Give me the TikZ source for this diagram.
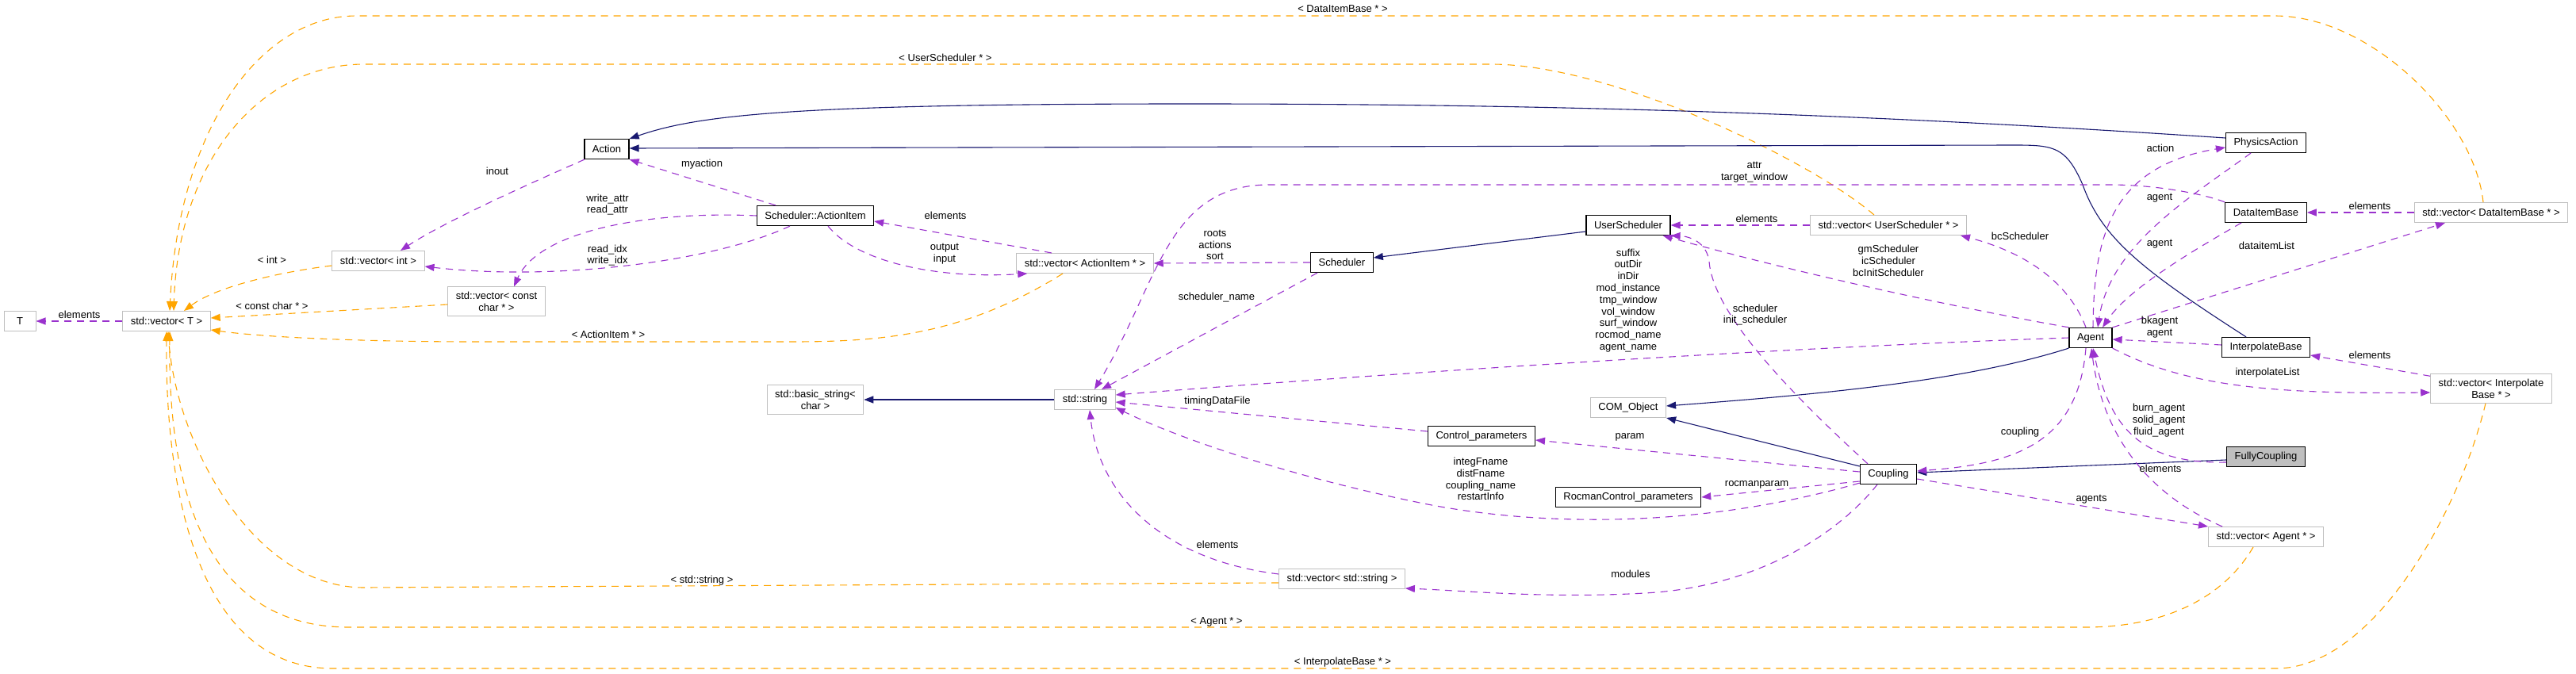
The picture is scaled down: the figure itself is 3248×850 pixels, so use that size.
\documentclass[tikz,border=0pt]{standalone}
\usepackage{fontspec}
\setmainfont{Liberation Sans}[Ligatures=NoCommon]
\usetikzlibrary{arrows.meta}

\definecolor{dxpurple}{HTML}{9A32CD}
\definecolor{dxorange}{HTML}{FFA500}
\definecolor{dxnavy}{HTML}{191970}
\definecolor{dxgray}{HTML}{BFBFBF}

\begin{document}
\begin{tikzpicture}[
  x=1pt, y=-1pt,
  font=\fontsize{13}{14.8}\selectfont,
  cls/.style={draw=black, line width=1.2pt, fill=white, minimum height=25pt, inner xsep=10pt, inner ysep=6pt, align=center},
  tcls/.style={cls, draw=dxgray, line width=1pt},
  lbl/.style={inner sep=0pt, align=center},
  tip/.style={-{Triangle[length=12pt,width=9pt]}},
  mem/.style={tip, draw=dxpurple, line width=1.1pt, dash pattern=on 9pt off 7pt},
  tmpl/.style={tip, draw=dxorange, line width=1.1pt, dash pattern=on 9pt off 7pt},
  inh/.style={tip, draw=dxnavy, line width=1.1pt}
]
\useasboundingbox (0,0) rectangle (3248,850);

% classes
\node[tcls, minimum width=40pt] (tT) at (25,405) {T};
\node[tcls] (vecT) at (210,405) {std::vector< T >};
\node[tcls] (vecInt) at (477,329) {std::vector< int >};
\node[tcls] (vecCChar) at (626,380) {std::vector< const\\char * >};
\node[cls] (action) at (765,188) {Action};
\node[cls] (actItem) at (1028,272) {Scheduler::ActionItem};
\node[tcls] (vecActItem) at (1368,332) {std::vector< ActionItem * >};
\node[tcls] (bstring) at (1028,504) {std::basic\_string<\\char >};
\node[tcls] (sstring) at (1368,504) {std::string};
\node[cls] (sched) at (1692,331) {Scheduler};
\node[cls] (usched) at (2053,284) {UserScheduler};
\node[tcls] (vecUsched) at (2381,284) {std::vector< UserScheduler * >};
\node[tcls] (comobj) at (2053,514) {COM\_Object};
\node[cls] (ctrlpar) at (1868,550) {Control\_parameters};
\node[cls] (rocpar) at (2053,627) {RocmanControl\_parameters};
\node[tcls] (vecStr) at (1692,730) {std::vector< std::string >};
\node[cls] (coupling) at (2381,598) {Coupling};
\node[cls] (physact) at (2857,180) {PhysicsAction};
\node[cls] (dataitem) at (2857,268) {DataItemBase};
\node[tcls] (vecData) at (3141,268) {std::vector< DataItemBase * >};
\node[cls] (agent) at (2636,426) {Agent};
\node[cls] (interp) at (2857,438) {InterpolateBase};
\node[tcls] (vecInterp) at (3141,490) {std::vector< Interpolate\\Base * >};
\node[cls, fill=dxgray] (fully) at (2857,576) {FullyCoupling};
\node[tcls] (vecAgent) at (2857,677) {std::vector< Agent * >};

% template instances
\draw[tmpl] ([yshift=-6pt]vecInt.west) .. controls (360,342) and (275,360) .. ([xshift=22pt]vecT.north) node[lbl] at (343,328) {< int >};
\draw[tmpl] ([yshift=-4pt]vecCChar.west) -- ([yshift=4pt]vecT.east) node[lbl] at (343,386) {< const char * >};
\draw[tmpl] ([xshift=-28pt]vecActItem.south) .. controls (1220,420) and (1120,431) .. (1000,431) -- (600,431) .. controls (450,431) and (330,425) .. ([yshift=-11pt]vecT.east) node[lbl] at (767,422) {< ActionItem * >};
\draw[tmpl] ([xshift=-10pt]vecData.north) .. controls (3120,150) and (2990,20) .. (2868,20) -- (449,20) .. controls (330,20) and (225,160) .. ([xshift=4pt]vecT.north) node[lbl] at (1693,11) {< DataItemBase * >};
\draw[tmpl] ([xshift=-18pt]vecUsched.north) .. controls (2280,200) and (2030,81) .. (1880,81) -- (459,81) .. controls (330,81) and (225,200) .. ([xshift=9pt]vecT.north) node[lbl] at (1192,73) {< UserScheduler * >};
\draw[tmpl] ([yshift=-5pt]vecStr.west) -- (459,741) .. controls (320,741) and (222,560) .. ([xshift=2pt]vecT.south) node[lbl] at (885,732) {< std::string >};
\draw[tmpl] ([xshift=-16pt]vecAgent.south) .. controls (2800,760) and (2720,791) .. (2630,791) -- (440,791) .. controls (250,791) and (212,600) .. ([xshift=4pt]vecT.south) node[lbl] at (1534,784) {< Agent * >};
\draw[tmpl] ([xshift=-7pt]vecInterp.south) .. controls (3100,650) and (2990,843) .. (2870,843) -- (420,843) .. controls (250,843) and (208,620) .. (vecT.south) node[lbl] at (1693,835) {< InterpolateBase * >};

% inheritance
\draw[inh] (sstring) -- (bstring);
\draw[inh] ([yshift=-8pt]usched.west) -- ([yshift=6pt]sched.east);
\draw[inh] ([yshift=6pt]physact.west) .. controls (2300,140) and (1900,131) .. (1500,131) .. controls (1000,131) and (880,145) .. ([yshift=13pt]action.east);
\draw[inh] ([xshift=-25pt]interp.north) .. controls (2700,340) and (2650,300) .. (2626,233) .. controls (2605,185) and (2590,183) .. (2540,183) -- ([yshift=1pt]action.east);
\draw[inh] (agent.south west) .. controls (2480,480) and (2300,497) .. ([yshift=2pt]comobj.east);
\draw[inh] ([yshift=10pt]coupling.west) -- (comobj.south east);
\draw[inh] ([yshift=-4pt]fully.west) -- ([yshift=2pt]coupling.east);

% members
\draw[mem] (vecT) -- (tT) node[lbl] at (100,397) {elements};
\draw[mem] ([xshift=-28pt]action.south) .. controls (660,235) and (560,280) .. ([xshift=28pt]vecInt.north) node[lbl] at (627,216) {inout};
\draw[mem] (actItem.west) .. controls (820,266) and (680,290) .. ([xshift=22pt]vecCChar.north) node[lbl] at (766,258) {write\_attr\\read\_attr};
\draw[mem] ([xshift=-32pt]actItem.south) .. controls (900,330) and (700,355) .. ([yshift=-7pt]vecInt.east) node[lbl] at (766,322) {read\_idx\\write\_idx};
\draw[mem] ([xshift=-50pt]actItem.north) -- (action.south east) node[lbl] at (885,207) {myaction};
\draw[mem] ([xshift=-42pt]vecActItem.north) -- ([yshift=-7pt]actItem.east) node[lbl] at (1192,272) {elements};
\draw[mem] ([xshift=16pt]actItem.south) .. controls (1080,330) and (1180,352) .. ([xshift=14pt]vecActItem.south west) node[lbl] at (1191,320) {output\\input};
\draw[mem] (sched.west) -- (vecActItem.east) node[lbl] at (1532,309) {roots\\actions\\sort};
\draw[mem] ([xshift=-31pt]sched.south) -- ([xshift=21pt]sstring.north) node[lbl] at (1534,375) {scheduler\_name};
\draw[mem] (dataitem.north west) .. controls (2780,245) and (2720,233) .. (2660,233) -- (1600,233) .. controls (1470,233) and (1460,360) .. ([xshift=12pt]sstring.north) node[lbl] at (2212,217) {attr\\target\_window};
\draw[mem] (agent.west) .. controls (2200,440) and (1700,475) .. ([yshift=6pt]sstring.east) node[lbl] at (2053,379) {suffix\\outDir\\inDir\\mod\_instance\\tmp\_window\\vol\_window\\surf\_window\\rocmod\_name\\agent\_name};
\draw[mem] ([yshift=6pt]ctrlpar.west) -- ([yshift=-3pt]sstring.east) node[lbl] at (1535,506) {timingDataFile};
\draw[mem] ([yshift=2pt]coupling.south west) .. controls (2150,665) and (1950,665) .. (1800,636) .. controls (1620,600) and (1480,550) .. ([yshift=-10pt]sstring.east) node[lbl] at (1867,604) {integFname\\distFname\\coupling\_name\\restartInfo};
\draw[mem] ([yshift=6pt]vecStr.west) .. controls (1460,705) and (1385,620) .. ([xshift=6pt]sstring.south) node[lbl] at (1535,687) {elements};
\draw[mem] (vecUsched) -- (usched) node[lbl] at (2215,276) {elements};
\draw[mem] (agent.north west) .. controls (2450,385) and (2250,340) .. ([xshift=-10pt]usched.south east) node[lbl] at (2381,329) {gmScheduler\\icScheduler\\bcInitScheduler};
\draw[mem] ([xshift=-26pt]coupling.north) .. controls (2240,480) and (2160,390) .. (2155,330) .. controls (2152,305) and (2130,298) .. (usched.south east) node[lbl] at (2213,397) {scheduler\\init\_scheduler};
\draw[mem] ([xshift=-6pt]agent.north) .. controls (2610,360) and (2560,320) .. ([xshift=91pt]vecUsched.south) node[lbl] at (2547,298) {bcScheduler};
\draw[mem] ([yshift=3pt]coupling.west) -- ([yshift=-5pt]ctrlpar.east) node[lbl] at (2055,551) {param};
\draw[mem] ([yshift=-9pt]coupling.west) -- (rocpar.east) node[lbl] at (2215,611) {rocmanparam};
\draw[mem] ([xshift=-14pt]coupling.south) .. controls (2320,670) and (2220,740) .. (2074,748) .. controls (1950,755) and (1850,745) .. ([yshift=-12pt]vecStr.east) node[lbl] at (2056,724) {modules};
\draw[mem] ([xshift=3pt]agent.north) .. controls (2640,300) and (2660,210) .. ([yshift=-6pt]physact.west) node[lbl] at (2724,187) {action};
\draw[mem] ([xshift=-19pt]physact.south) .. controls (2760,250) and (2660,310) .. ([xshift=9pt]agent.north) node[lbl] at (2723,250) {agent};
\draw[mem] ([xshift=-31pt]dataitem.south) .. controls (2740,330) and (2680,370) .. ([xshift=15pt]agent.north) node[lbl] at (2723,308) {agent};
\draw[mem] (vecData) -- (dataitem) node[lbl] at (2988,260) {elements};
\draw[mem] (agent.north east) -- ([xshift=-58pt]vecData.south) node[lbl] at (2858,310) {dataitemList};
\draw[mem] ([yshift=3pt]interp.west) -- ([yshift=-2pt]agent.east) node[lbl] at (2723,413) {bkagent\\agent};
\draw[mem] ([yshift=-3pt]vecInterp.north west) -- ([yshift=-10pt]interp.east) node[lbl] at (2988,448) {elements};
\draw[mem] (agent.south east) .. controls (2760,490) and (2880,497) .. ([yshift=-5pt]vecInterp.west) node[lbl] at (2859,470) {interpolateList};
\draw[mem] ([xshift=-6pt]agent.south) .. controls (2620,560) and (2540,585) .. ([yshift=4pt]coupling.east) node[lbl] at (2547,545) {coupling};
\draw[mem] ([yshift=-7pt]fully.west) .. controls (2700,585) and (2660,540) .. ([xshift=3pt]agent.south) node[lbl] at (2722,530) {burn\_agent\\solid\_agent\\fluid\_agent};
\draw[mem] ([xshift=-55pt]vecAgent.north) .. controls (2700,620) and (2650,540) .. ([xshift=1pt]agent.south) node[lbl] at (2724,591) {elements};
\draw[mem] ([yshift=-6pt]coupling.east) -- (vecAgent.north west) node[lbl] at (2637,630) {agents};
\end{tikzpicture}
\end{document}
